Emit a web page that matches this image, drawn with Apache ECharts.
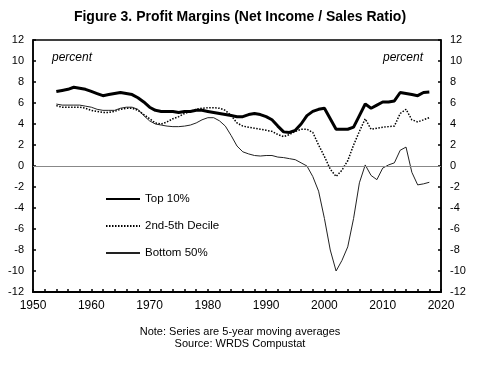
<!DOCTYPE html>
<html>
<head>
<meta charset="utf-8">
<script src="https://cdn.jsdelivr.net/npm/echarts@6/dist/echarts.min.js"></script>
<style>
html,body{margin:0;padding:0;background:#fff;}
#chart{width:480px;height:371px;}
</style>
</head>
<body>
<div id="chart"></div>
<script>
const years = [1954,1955,1956,1957,1958,1959,1960,1961,1962,1963,1964,1965,1966,1967,1968,1969,
1970,1971,1972,1973,1974,1975,1976,1977,1978,1979,1980,1981,1982,1983,1984,1985,1986,1987,1988,1989,
1990,1991,1992,1993,1994,1995,1996,1997,1998,1999,2000,2001,2002,2003,2004,2005,2006,2007,2008,2009,
2010,2011,2012,2013,2014,2015,2016,2017,2018];

const top10 = [7.1,7.2,7.3,7.5,7.4,7.3,7.1,6.9,6.7,6.8,6.9,7.0,6.9,6.8,6.5,6.1,
5.6,5.3,5.2,5.2,5.2,5.1,5.2,5.2,5.3,5.3,5.2,5.1,5.0,4.9,4.8,4.7,4.7,4.9,5.0,4.9,
4.7,4.4,3.8,3.25,3.2,3.4,4.0,4.8,5.2,5.4,5.5,4.5,3.5,3.5,3.5,3.7,4.8,5.9,5.5,5.8,
6.1,6.1,6.2,7.0,6.9,6.8,6.7,7.0,7.05];

const decile2to5 = [5.75,5.6,5.6,5.6,5.6,5.5,5.3,5.2,5.1,5.1,5.2,5.4,5.5,5.5,5.3,4.9,
4.5,4.1,4.0,4.2,4.5,4.7,5.0,5.2,5.4,5.5,5.55,5.55,5.5,5.3,4.8,4.1,3.8,3.7,3.6,3.5,
3.4,3.3,3.0,2.8,3.0,3.3,3.5,3.5,3.2,2.0,0.9,-0.3,-1.0,-0.4,0.5,2.0,3.3,4.5,3.5,3.6,
3.7,3.75,3.8,5.0,5.4,4.4,4.2,4.4,4.6];

const bottom50 = [5.9,5.8,5.8,5.8,5.8,5.7,5.6,5.4,5.3,5.3,5.3,5.5,5.6,5.6,5.4,4.8,
4.3,4.0,3.9,3.8,3.75,3.75,3.8,3.9,4.1,4.4,4.6,4.6,4.3,3.8,2.9,1.9,1.35,1.15,1.0,0.95,
1.0,1.0,0.85,0.8,0.7,0.6,0.3,0.0,-1.0,-2.4,-5.0,-8.0,-10.0,-9.0,-7.7,-5.0,-1.6,0.1,-0.9,-1.3,
-0.2,0.1,0.3,1.5,1.8,-0.6,-1.8,-1.7,-1.55];

const seriesNames = ['Top 10%','2nd-5th Decile','Bottom 50%'];
const titleText = 'Figure 3. Profit Margins (Net Income / Sales Ratio)';
const noteText = 'Note: Series are 5-year moving averages';
const sourceText = 'Source: WRDS Compustat';
const unitText = 'percent';

const pairs = arr => years.map((y,i)=>[y,arr[i]]);
const FONT = '"Liberation Sans", Arial, sans-serif';

const chart = echarts.init(document.getElementById('chart'), null, {renderer:'canvas'});

const yAxisCommon = {
  type:'value', min:-12, max:12, interval:2,
  axisLine:{show:true, onZero:false, lineStyle:{color:'#000', width:1.5}},
  axisTick:{show:true, inside:true, length:3, lineStyle:{color:'#000', width:1.5}},
  axisLabel:{color:'#000', fontSize:11, fontFamily:FONT, margin:9},
  splitLine:{show:false}
};

chart.setOption({
  animation:false,
  backgroundColor:'#fff',
  title:{
    text:titleText, left:'center', top:5,
    textStyle:{fontSize:14, fontWeight:'bold', color:'#000', fontFamily:FONT}
  },
  grid:{left:33, right:39, top:40, bottom:79, show:true, borderColor:'#000', borderWidth:1.5, containLabel:false},
  legend:{
    orient:'vertical', left:100, top:188, itemWidth:34, itemHeight:14, itemGap:15,
    data:seriesNames,
    textStyle:{fontSize:11.5, color:'#000', fontFamily:FONT},
    itemStyle:{color:'transparent', borderColor:'transparent', borderWidth:0, opacity:0}
  },
  xAxis:{
    type:'value', min:1950, max:2020, interval:2,
    axisLine:{show:true, onZero:false, lineStyle:{color:'#000', width:2}},
    axisTick:{show:true, inside:true, length:3, lineStyle:{color:'#000', width:1.5}},
    axisLabel:{color:'#000', fontSize:12, fontFamily:FONT, margin:8,
      formatter: v => (v % 10 === 0 ? String(v) : '')},
    splitLine:{show:false}
  },
  yAxis:[
    Object.assign({}, yAxisCommon, {position:'left'}),
    Object.assign({}, yAxisCommon, {position:'right'})
  ],
  graphic:[
    {type:'text', left:52, top:52, style:{text:unitText, fill:'#000', font:'italic 12px "Liberation Sans", Arial, sans-serif'}},
    {type:'text', left:383, top:52, style:{text:unitText, fill:'#000', font:'italic 12px "Liberation Sans", Arial, sans-serif'}},
    {type:'text', left:'center', top:326, style:{text:noteText, fill:'#000', font:'11px "Liberation Sans", Arial, sans-serif', textAlign:'center'}},
    {type:'text', left:'center', top:338, style:{text:sourceText, fill:'#000', font:'11px "Liberation Sans", Arial, sans-serif', textAlign:'center'}}
  ],
  series:[
    {
      name:seriesNames[0], type:'line', data:pairs(top10), showSymbol:false, symbol:'none',
      lineStyle:{color:'#000', width:3}, itemStyle:{color:'#000'},
      markLine:{silent:true, symbol:'none', label:{show:false},
        lineStyle:{color:'#888', width:1, type:'solid'}, data:[{yAxis:0}]},
      z:5
    },
    {
      name:seriesNames[1], type:'line', data:pairs(decile2to5), showSymbol:false, symbol:'none',
      lineStyle:{color:'#000', width:1.5, type:[1.5,1.5]}, itemStyle:{color:'#000'}, z:4
    },
    {
      name:seriesNames[2], type:'line', data:pairs(bottom50), showSymbol:false, symbol:'none',
      lineStyle:{color:'#222', width:1}, itemStyle:{color:'#222'}, z:3
    }
  ]
});
</script>
</body>
</html>
